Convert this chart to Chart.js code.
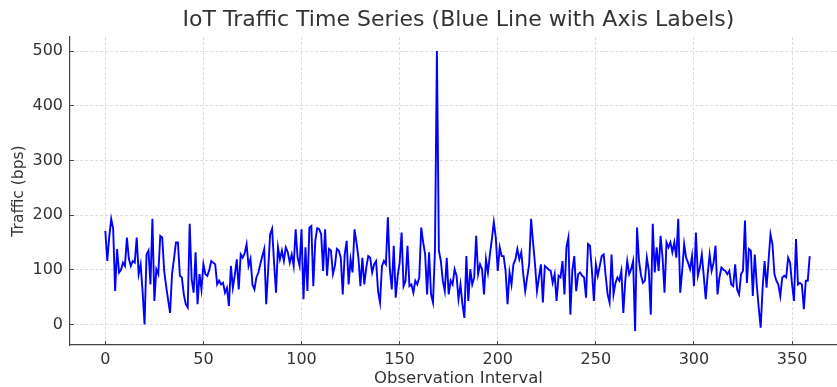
<!DOCTYPE html>
<html>
<head>
<meta charset="utf-8">
<script src="https://cdn.jsdelivr.net/npm/chart.js@4"></script>
<style>
    html, body { margin: 0; padding: 0; background: #fff; overflow: hidden; }
    #wrap { width: 837px; height: 387px; overflow: hidden; }
</style>
</head>
<body>
<div id="wrap"><canvas id="trafficChart" width="870" height="387"></canvas></div>
<script>
// =====================================
// Data
// =====================================

const traffic = [
    171, 116, 160, 193, 175, 61, 138, 95, 100, 113,
    107, 159, 120, 107, 116, 113, 159, 92, 110, 60,
    0, 128, 135, 73, 193, 43, 101, 92, 162, 159,
    98, 70, 45, 21, 92, 120, 150, 150, 89, 86,
    55, 37, 31, 184, 83, 58, 132, 37, 92, 64,
    110, 92, 89, 100, 116, 113, 110, 73, 80, 73,
    76, 58, 67, 34, 107, 67, 90, 119, 64, 128,
    122, 130, 147, 107, 120, 73, 64, 86, 95, 110,
    125, 138, 37, 100, 165, 175, 113, 58, 141, 119,
    135, 116, 141, 132, 113, 128, 107, 174, 122, 107,
    174, 46, 141, 61, 177, 180, 70, 153, 176, 174,
    165, 98, 174, 89, 138, 135, 92, 107, 138, 135,
    122, 55, 128, 153, 73, 119, 95, 174, 150, 122,
    70, 122, 73, 104, 125, 122, 95, 110, 116, 61,
    40, 107, 116, 110, 196, 101, 64, 144, 49, 89,
    113, 168, 70, 80, 144, 70, 73, 58, 80, 73,
    86, 177, 150, 128, 55, 132, 55, 40, 135, 500,
    135, 116, 80, 61, 122, 55, 80, 73, 101, 89,
    46, 73, 37, 12, 125, 43, 101, 73, 86, 162,
    92, 110, 101, 55, 119, 95, 128, 156, 187, 159,
    98, 141, 125, 125, 98, 37, 95, 73, 110, 119,
    138, 119, 132, 92, 61, 86, 110, 193, 150, 110,
    61, 86, 110, 40, 107, 104, 100, 98, 76, 92,
    43, 89, 86, 116, 55, 141, 159, 18, 98, 125,
    61, 92, 95, 89, 86, 49, 147, 144, 98, 43,
    110, 89, 107, 125, 128, 89, 55, 40, 128, 55,
    76, 86, 80, 98, 21, 80, 116, 92, 101, 116,
    -12, 177, 116, 90, 76, 80, 122, 98, 18, 184,
    95, 141, 98, 162, 122, 58, 150, 141, 150, 132,
    150, 122, 193, 58, 98, 147, 122, 113, 101, 125,
    70, 168, 89, 104, 128, 89, 46, 92, 128, 98,
    113, 144, 55, 86, 104, 100, 98, 92, 98, 73,
    70, 110, 64, 55, 92, 98, 190, 76, 138, 135,
    52, 128, 73, 31, -6, 67, 116, 67, 116, 165,
    147, 92, 80, 73, 52, 86, 89, 86, 122, 113,
    73, 43, 156, 73, 76, 73, 28, 80, 80, 125
];

const intervals = traffic.map((v, i) => i);

const xTicks = [0, 50, 100, 150, 200, 250, 300, 350];
const yTicks = [0, 100, 200, 300, 400, 500];

// =====================================
// Chart
// =====================================

const FONT = "'DejaVu Sans', sans-serif";
const TEXT = "#333333";

// matplotlib-style ticks point into the plot, so tickLength is negative
const axisGrid = {
    color: "#d4d4d4",
    lineWidth: 0.8,
    tickColor: "#444",
    tickLength: -4,
    tickWidth: 1,
    tickBorderDash: []
};

new Chart(document.getElementById("trafficChart"), {
    type: "line",
    data: {
        datasets: [{
            data: traffic.map((v, i) => ({ x: intervals[i], y: v })),
            borderColor: "#0000ff",
            borderWidth: 1.9,
            pointRadius: 0,
            fill: false,
            tension: 0
        }]
    },
    options: {
        responsive: false,
        animation: false,
        devicePixelRatio: 1,
        layout: {
            padding: { left: 0, right: 23, top: 0, bottom: 0 }
        },
        plugins: {
            legend: { display: false },
            tooltip: { enabled: false },
            title: {
                display: true,
                text: "IoT Traffic Time Series (Blue Line with Axis Labels)",
                color: TEXT,
                fullSize: false,
                font: { family: FONT, size: 22, weight: "normal" },
                padding: { top: 7, bottom: 3.6 }
            }
        },
        scales: {
            x: {
                type: "linear",
                min: -18,
                max: 378,
                afterBuildTicks: (scale) => {
                    scale.ticks = xTicks.map(v => ({ value: v }));
                },
                afterFit: (scale) => { scale.height = 42; },
                ticks: {
                    color: TEXT,
                    font: { family: FONT, size: 16 },
                    padding: 9,
                    maxRotation: 0
                },
                grid: axisGrid,
                border: { display: true, color: "#444", width: 1.2, dash: [3, 2] },
                title: {
                    display: true,
                    text: "Observation Interval",
                    color: TEXT,
                    font: { family: FONT, size: 16.5 },
                    padding: { top: 0, bottom: -2 }
                }
            },
            y: {
                min: -37.6,
                max: 525.6,
                afterBuildTicks: (scale) => {
                    scale.ticks = yTicks.map(v => ({ value: v }));
                },
                afterFit: (scale) => { scale.width = 70; },
                ticks: {
                    color: TEXT,
                    font: { family: FONT, size: 16 },
                    padding: 11
                },
                grid: axisGrid,
                border: { display: true, color: "#444", width: 1.2, dash: [3, 2] },
                title: {
                    display: true,
                    text: "Traffic (bps)",
                    color: TEXT,
                    font: { family: FONT, size: 15.5 },
                    padding: { top: 10, bottom: 0 }
                }
            }
        }
    }
});
</script>
</body>
</html>
